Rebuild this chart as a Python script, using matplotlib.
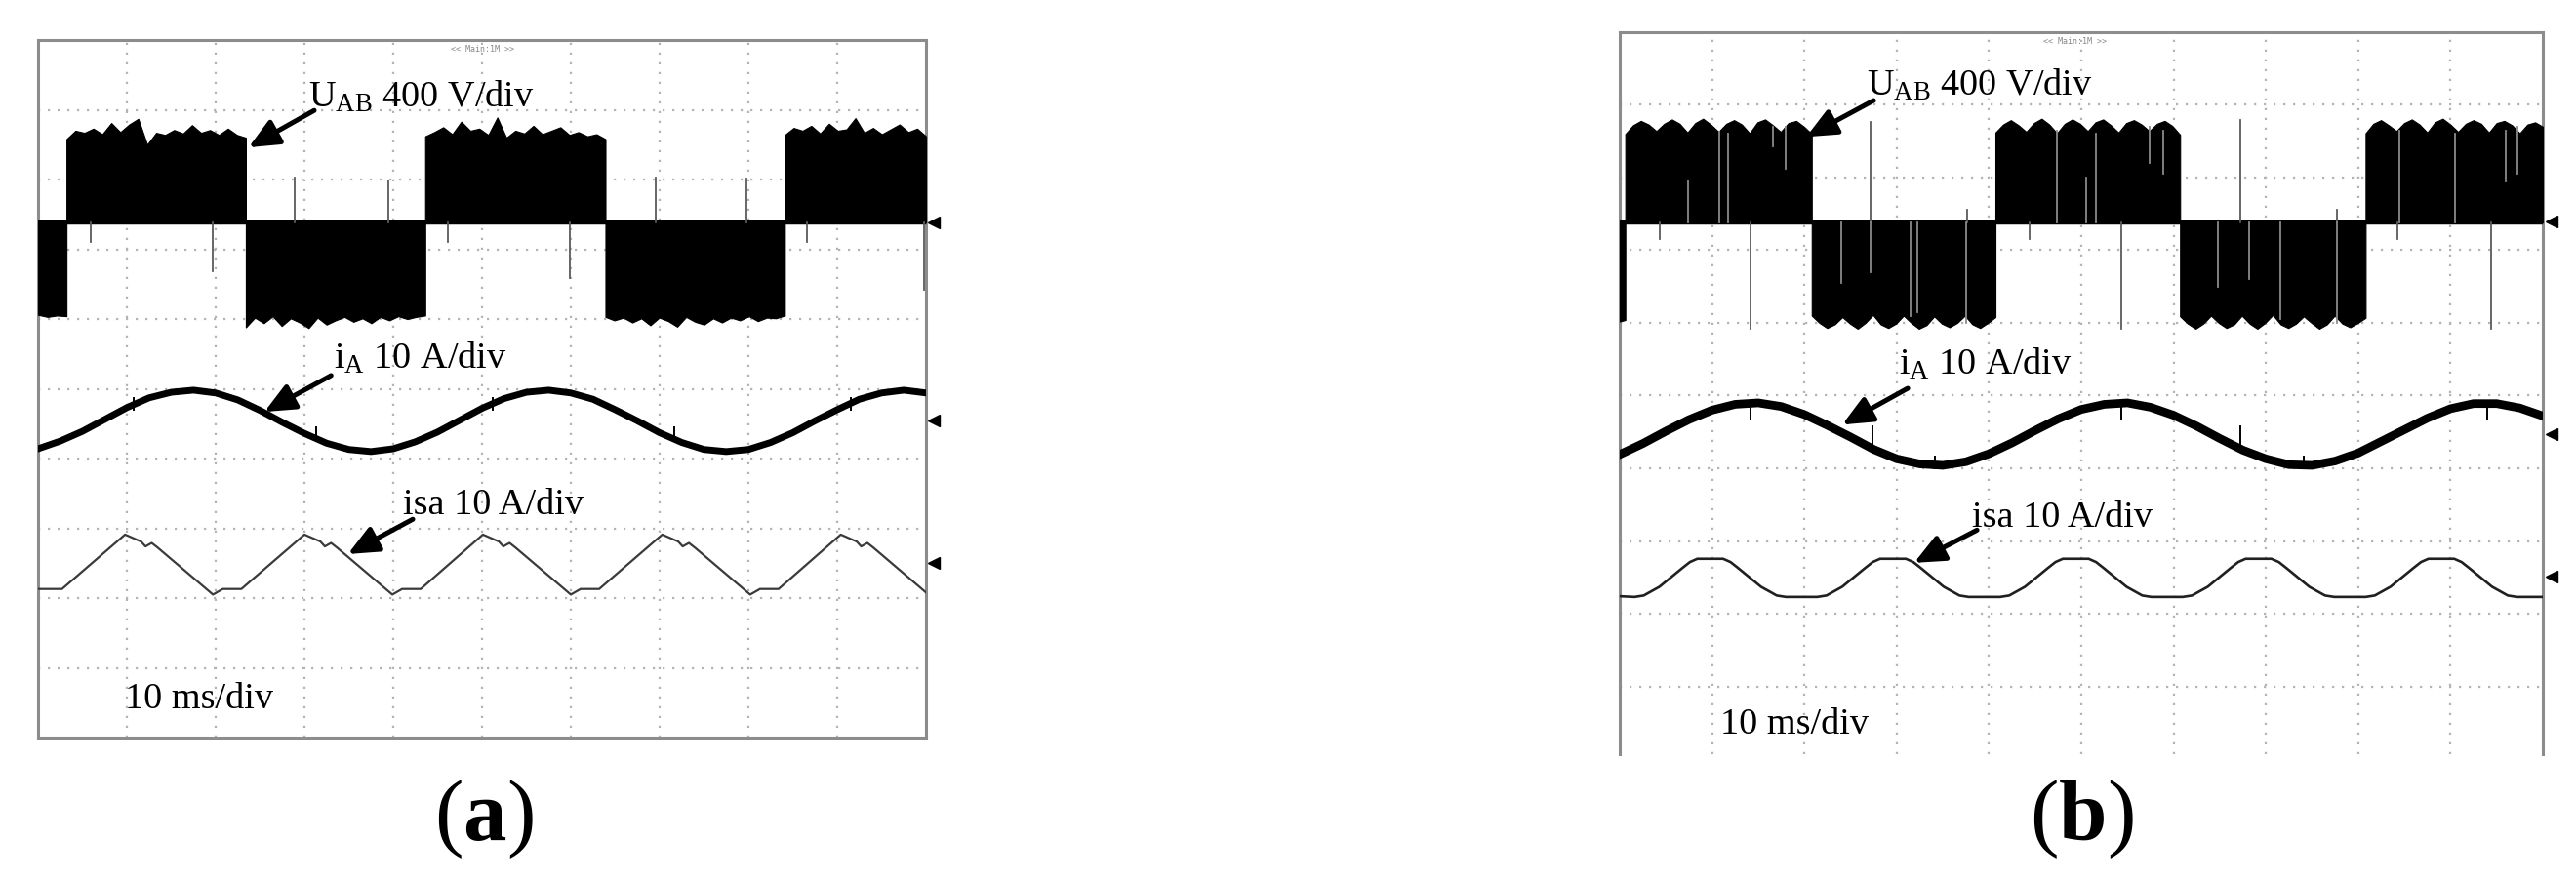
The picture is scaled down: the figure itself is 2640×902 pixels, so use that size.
import numpy as np
import matplotlib
matplotlib.use("Agg")
import matplotlib.pyplot as plt

plt.rcParams['mathtext.fontset'] = 'custom'
plt.rcParams['mathtext.rm'] = 'Liberation Serif'
plt.rcParams['mathtext.it'] = 'Liberation Serif:italic'
plt.rcParams['mathtext.bf'] = 'Liberation Serif:bold'
SERIF = 'Liberation Serif'

# ---------------- data (oscilloscope divisions, y measured downward from top) -------------
# Panel (a)
a_zero = 2.62
a_block_edges = [0.00, 0.32, 2.34, 4.36, 6.39, 8.41, 10.00]
a_block_env = [
    [3.94, 3.97, 3.95, 3.96],
    [1.42, 1.30, 1.33, 1.27, 1.35, 1.19, 1.32, 1.21, 1.13, 1.50, 1.33, 1.36, 1.29, 1.34, 1.22, 1.33, 1.29, 1.36, 1.27, 1.36, 1.40],
    [4.12, 3.98, 4.06, 3.96, 4.10, 3.99, 4.05, 4.13, 3.98, 4.08, 4.02, 3.97, 4.04, 3.99, 4.06, 3.97, 4.02, 3.96, 4.00, 3.97, 3.95],
    [1.38, 1.32, 1.25, 1.35, 1.17, 1.30, 1.27, 1.36, 1.11, 1.40, 1.30, 1.34, 1.23, 1.35, 1.30, 1.25, 1.36, 1.32, 1.38, 1.35, 1.42],
    [3.97, 4.02, 3.98, 4.05, 3.99, 4.09, 3.98, 4.03, 4.11, 3.97, 4.04, 4.08, 3.99, 4.05, 3.98, 4.02, 3.96, 4.03, 3.98, 3.99, 3.95],
    [1.36, 1.26, 1.30, 1.23, 1.34, 1.20, 1.30, 1.28, 1.12, 1.33, 1.26, 1.35, 1.28, 1.21, 1.32, 1.27, 1.38],
]
a_spike_x = [2.89, 3.95, 6.96, 7.98, 0.59, 1.97, 4.62, 5.99, 8.66, 9.98]
a_spike_y = [1.97, 2.01, 1.97, 1.99, 2.90, 3.32, 2.90, 3.41, 2.90, 3.58]

a_ia_x = [0.00, 0.25, 0.50, 0.75, 1.00, 1.25, 1.50, 1.75, 2.00, 2.25, 2.50, 2.75, 3.00, 3.25,
          3.50, 3.75, 4.00, 4.25, 4.50, 4.75, 5.00, 5.25, 5.50, 5.75, 6.00, 6.25, 6.50, 6.75,
          7.00, 7.25, 7.50, 7.75, 8.00, 8.25, 8.50, 8.75, 9.00, 9.25, 9.50, 9.75, 10.00]
a_ia_y = [5.86, 5.75, 5.61, 5.44, 5.27, 5.13, 5.05, 5.02, 5.06, 5.16, 5.31, 5.48, 5.64, 5.78,
          5.87, 5.90, 5.86, 5.76, 5.62, 5.45, 5.28, 5.14, 5.05, 5.02, 5.06, 5.15, 5.30, 5.46,
          5.63, 5.77, 5.87, 5.90, 5.87, 5.77, 5.63, 5.46, 5.30, 5.15, 5.06, 5.02, 5.06]
a_ia_glitch_x = [1.08, 3.13, 5.12, 7.17, 9.15]
a_ia_glitch_y0 = [5.13, 5.55, 5.13, 5.55, 5.13]
a_ia_glitch_y1 = [5.30, 5.75, 5.30, 5.75, 5.30]

a_isa_x = [0.00, 0.27,
           0.98, 1.07, 1.16, 1.21, 1.28, 1.35, 1.97, 2.08, 2.29,
           3.00, 3.09, 3.18, 3.23, 3.30, 3.37, 3.99, 4.10, 4.31,
           5.01, 5.10, 5.19, 5.24, 5.31, 5.38, 6.00, 6.11, 6.32,
           7.03, 7.12, 7.21, 7.26, 7.33, 7.40, 8.02, 8.13, 8.34,
           9.04, 9.13, 9.22, 9.27, 9.34, 9.41, 10.00]
a_isa_y = [7.87, 7.87,
           7.09, 7.14, 7.19, 7.26, 7.21, 7.28, 7.95, 7.87, 7.87,
           7.09, 7.14, 7.19, 7.26, 7.21, 7.28, 7.95, 7.87, 7.87,
           7.09, 7.14, 7.19, 7.26, 7.21, 7.28, 7.95, 7.87, 7.87,
           7.09, 7.14, 7.19, 7.26, 7.21, 7.28, 7.95, 7.87, 7.87,
           7.09, 7.14, 7.19, 7.26, 7.21, 7.28, 7.92]

# Panel (b)
b_zero = 2.62
b_block_edges = [0.00, 0.06, 2.08, 4.07, 6.07, 8.08, 10.00]
b_block_env = [
    [3.98, 3.96],
    [1.40, 1.28, 1.22, 1.27, 1.36, 1.26, 1.20, 1.26, 1.38, 1.25, 1.19, 1.27, 1.37, 1.26, 1.21, 1.27, 1.39, 1.24, 1.20, 1.28, 1.37, 1.25, 1.22, 1.30, 1.40],
    [3.90, 4.00, 4.07, 4.02, 3.92, 4.01, 4.08, 4.00, 3.89, 4.02, 4.07, 4.01, 3.90, 4.00, 4.08, 4.03, 3.91, 4.01, 4.06, 4.00, 3.90, 4.02, 4.07, 4.00, 3.92],
    [1.38, 1.27, 1.21, 1.28, 1.37, 1.25, 1.19, 1.27, 1.39, 1.26, 1.20, 1.26, 1.36, 1.24, 1.20, 1.28, 1.38, 1.25, 1.21, 1.27, 1.36, 1.26, 1.22, 1.29, 1.41],
    [3.91, 4.01, 4.08, 4.01, 3.90, 4.00, 4.07, 4.02, 3.90, 4.01, 4.08, 4.00, 3.89, 4.02, 4.07, 4.01, 3.91, 4.00, 4.08, 4.02, 3.90, 4.01, 4.06, 4.00, 3.93],
    [1.39, 1.26, 1.21, 1.28, 1.36, 1.25, 1.20, 1.27, 1.38, 1.24, 1.19, 1.27, 1.37, 1.26, 1.21, 1.26, 1.38, 1.25, 1.22, 1.28, 1.39, 1.27, 1.24, 1.30],
]
b_gap_x = [0.74, 1.08, 1.17, 1.66, 1.80, 2.40, 2.72, 3.15, 3.22, 3.75,
           4.74, 5.05, 5.16, 5.74, 5.89, 6.48, 6.82, 7.16, 7.77, 8.45, 9.05, 9.60, 9.72]
b_gap_y0 = [2.04, 1.37, 1.39, 1.30, 1.30, 2.62, 2.62, 2.62, 2.62, 2.62,
            1.35, 2.00, 1.40, 1.30, 1.35, 2.62, 2.62, 2.62, 2.62, 1.35, 1.40, 1.35, 1.30]
b_gap_y1 = [2.62, 2.62, 2.62, 1.57, 1.88, 3.45, 3.30, 3.90, 3.85, 4.00,
            2.62, 2.62, 2.62, 1.80, 1.95, 3.50, 3.40, 3.95, 4.00, 2.62, 2.62, 2.05, 1.95]
b_spike_x = [0.43, 1.42, 2.72, 3.76, 4.44, 5.43, 6.72, 7.77, 8.42, 9.44]
b_spike_y = [2.85, 4.08, 1.23, 2.44, 2.85, 4.08, 1.21, 2.44, 2.85, 4.08]

b_ia_x = a_ia_x
b_ia_y = [5.81, 5.66, 5.49, 5.33, 5.20, 5.12, 5.10, 5.15, 5.26, 5.41, 5.57, 5.74, 5.87, 5.94,
          5.96, 5.91, 5.80, 5.65, 5.48, 5.32, 5.19, 5.12, 5.10, 5.16, 5.27, 5.42, 5.59, 5.75,
          5.87, 5.95, 5.96, 5.90, 5.79, 5.63, 5.47, 5.31, 5.18, 5.11, 5.11, 5.17, 5.28]
b_ia_glitch_x = [1.42, 2.74, 3.41, 5.43, 6.72, 7.41, 9.40]
b_ia_glitch_y0 = [5.08, 5.42, 5.84, 5.08, 5.42, 5.84, 5.10]
b_ia_glitch_y1 = [5.33, 5.66, 6.00, 5.33, 5.66, 6.00, 5.33]

b_isa_x = [0.00,
           0.16, 0.26, 0.43, 0.68, 0.76, 0.84, 1.12, 1.20, 1.28, 1.53, 1.70, 1.80,
           2.14, 2.24, 2.41, 2.66, 2.74, 2.82, 3.10, 3.18, 3.26, 3.51, 3.68, 3.78,
           4.12, 4.22, 4.39, 4.64, 4.72, 4.80, 5.08, 5.16, 5.24, 5.49, 5.66, 5.76,
           6.10, 6.20, 6.37, 6.62, 6.70, 6.78, 7.06, 7.14, 7.22, 7.47, 7.64, 7.74,
           8.08, 8.18, 8.35, 8.60, 8.68, 8.76, 9.04, 9.12, 9.20, 9.45, 9.62, 9.72,
           10.00]
b_isa_y = [7.76,
           7.77, 7.75, 7.63, 7.37, 7.29, 7.245, 7.245, 7.29, 7.37, 7.63, 7.75, 7.77,
           7.77, 7.75, 7.63, 7.37, 7.29, 7.245, 7.245, 7.29, 7.37, 7.63, 7.75, 7.77,
           7.77, 7.75, 7.63, 7.37, 7.29, 7.245, 7.245, 7.29, 7.37, 7.63, 7.75, 7.77,
           7.77, 7.75, 7.63, 7.37, 7.29, 7.245, 7.245, 7.29, 7.37, 7.63, 7.75, 7.77,
           7.77, 7.75, 7.63, 7.37, 7.29, 7.245, 7.245, 7.29, 7.37, 7.63, 7.75, 7.77,
           7.77]

label_uab = r'U$_{\mathrm{AB}}$ 400 V/div'
label_ia = r'i$_{\mathrm{A}}$ 10 A/div'
label_isa = 'isa 10 A/div'
label_time = '10 ms/div'
label_top = '<< Main:1M >>'
panel_labels = [r'($\mathbf{a}$)', r'($\mathbf{b}$)']

# ---------------- figure ---------------------------------------------------------------
W, H, DPI = 2640, 902, 100
fig = plt.figure(figsize=(W / DPI, H / DPI), dpi=DPI)
fig.patch.set_facecolor('white')


def px_axes(left, top, right, bottom):
    return fig.add_axes([left / W, 1 - bottom / H, (right - left) / W, (bottom - top) / H])


GRID_C = '#b4b4b4'
BORDER_C = '#8c8c8c'
FS = 27.5


def draw_scope(ax, ymax, zero, edges, envs, spike_x, spike_y,
               ia_x, ia_y, ia_lw, gx, gy0, gy1,
               isa_x, isa_y, isa_lw, isa_c, markers, show_bottom=True):
    ax.set_xlim(0, 10)
    ax.set_ylim(ymax, 0)
    ax.set_xticks([])
    ax.set_yticks([])
    for s in ax.spines.values():
        s.set_color(BORDER_C)
        s.set_linewidth(2.2)
    if not show_bottom:
        ax.spines['bottom'].set_visible(False)
    for k in range(1, 10):
        ax.axvline(k, color=GRID_C, lw=1.6, ls=(0, (1, 3.5)), zorder=1)
        ax.axhline(k, color=GRID_C, lw=1.6, ls=(0, (1, 3.5)), zorder=1)
    # zero line band
    ax.axhline(zero, color='black', lw=3.2, zorder=3)
    # PWM blocks
    for i, env in enumerate(envs):
        xs = np.linspace(edges[i], edges[i + 1], len(env))
        ax.fill_between(xs, zero, env, color='black', lw=0.8, edgecolor='black', zorder=3)
    # spikes from zero line
    for x, y in zip(spike_x, spike_y):
        ax.plot([x, x], [zero, y], color='#5a5a5a', lw=1.3, zorder=3)
    # glitches on i_A
    for x, y0, y1 in zip(gx, gy0, gy1):
        ax.plot([x, x], [y0, y1], color='black', lw=1.4, zorder=4)
    ax.plot(ia_x, ia_y, color='black', lw=ia_lw, solid_joinstyle='round', zorder=4)
    ax.plot(isa_x, isa_y, color=isa_c, lw=isa_lw, solid_joinstyle='round', zorder=4)
    for m in markers:
        ax.plot(10.09, m, marker='<', ms=8, color='black', clip_on=False, zorder=6)


def arrow(ax, head, tail):
    ax.annotate('', xy=head, xytext=tail,
                arrowprops=dict(arrowstyle='-|>,head_length=0.85,head_width=0.38',
                                lw=3.6, color='black', shrinkA=0, shrinkB=0,
                                mutation_scale=22),
                zorder=7)


# ---- panel (a)
axa = px_axes(39, 41, 949, 756)
draw_scope(axa, 10.0, a_zero, a_block_edges, a_block_env, a_spike_x, a_spike_y,
           a_ia_x, a_ia_y, 5.0, a_ia_glitch_x, a_ia_glitch_y0, a_ia_glitch_y1,
           a_isa_x, a_isa_y, 1.6, '#3a3a3a', [2.62, 5.46, 7.50])
axa.text(3.04, 0.965, label_uab, fontsize=FS, family=SERIF, va='baseline', ha='left', zorder=8)
axa.text(3.33, 4.71, label_ia, fontsize=FS, family=SERIF, va='baseline', ha='left', zorder=8)
axa.text(4.11, 6.80, label_isa, fontsize=FS, family=SERIF, va='baseline', ha='left', zorder=8)
axa.text(0.98, 9.58, label_time, fontsize=FS, family=SERIF, va='baseline', ha='left', zorder=8)
axa.text(5.01, 0.13, label_top, fontsize=6, family='DejaVu Sans Mono', color='#888888',
         va='center', ha='center', zorder=8)
arrow(axa, (2.37, 1.54), (3.11, 1.01))
arrow(axa, (2.55, 5.33), (3.30, 4.81))
arrow(axa, (3.49, 7.37), (4.22, 6.87))

# ---- panel (b)
b_ymax = (773 - 33) / 74.5
axb = px_axes(1660, 33, 2606, 773)
draw_scope(axb, b_ymax, b_zero, b_block_edges, b_block_env, b_spike_x, b_spike_y,
           b_ia_x, b_ia_y, 6.3, b_ia_glitch_x, b_ia_glitch_y0, b_ia_glitch_y1,
           b_isa_x, b_isa_y, 1.9, '#202020', [2.60, 5.53, 7.49], show_bottom=False)
for x, y0, y1 in zip(b_gap_x, b_gap_y0, b_gap_y1):
    axb.plot([x, x], [y0, y1], color='#8a8a8a', lw=1.3, zorder=3.5)
axb.text(2.67, 0.87, label_uab, fontsize=FS, family=SERIF, va='baseline', ha='left', zorder=8)
axb.text(3.02, 4.70, label_ia, fontsize=FS, family=SERIF, va='baseline', ha='left', zorder=8)
axb.text(3.82, 6.81, label_isa, fontsize=FS, family=SERIF, va='baseline', ha='left', zorder=8)
axb.text(1.09, 9.65, label_time, fontsize=FS, family=SERIF, va='baseline', ha='left', zorder=8)
axb.text(4.93, 0.13, label_top, fontsize=6, family='DejaVu Sans Mono', color='#888888',
         va='center', ha='center', zorder=8)
arrow(axb, (2.02, 1.44), (2.75, 0.94))
arrow(axb, (2.41, 5.40), (3.12, 4.90))
arrow(axb, (3.19, 7.30), (3.87, 6.85))

# ---- panel captions
fig.text(496 / W, 1 - 861 / H, panel_labels[0], fontsize=64, family=SERIF,
         ha='center', va='baseline')
fig.text(2133 / W, 1 - 861 / H, panel_labels[1], fontsize=64, family=SERIF,
         ha='center', va='baseline')

fig.savefig('out.png', dpi=DPI, facecolor='white')
